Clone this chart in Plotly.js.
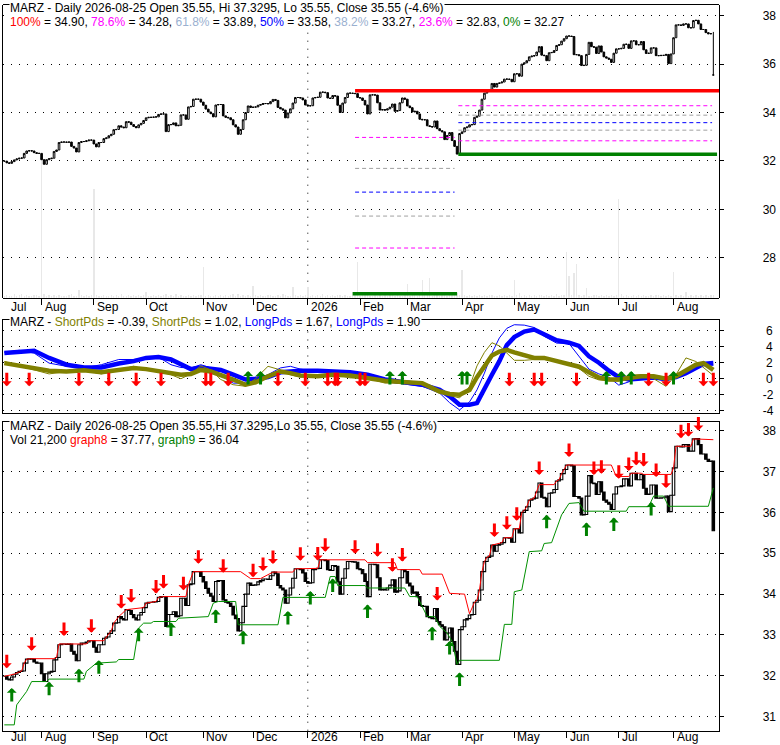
<!DOCTYPE html>
<html>
<head>
<meta charset="utf-8">
<script src="https://cdn.plot.ly/plotly-3.0.1.min.js"></script>
<style>
  body { margin: 0; background: #fff; }
  #chart { width: 780px; height: 745px; }
</style>
</head>
<body>
<div id="chart"></div>
<script>
// daily closes, one per trading day (Jul 2025 .. 2026-08-25)
const closes = [
  31.99, 31.92, 31.90, 31.97, 32.04, 32.08, 32.11, 32.12, 32.31, 32.41,
  32.42, 32.41, 32.34, 32.31, 32.31, 32.05, 31.86, 32.05, 32.09, 32.11,
  32.39, 32.45, 32.76, 32.78, 32.78, 32.77, 32.78, 32.60, 32.53, 32.37,
  32.76, 32.80, 32.80, 32.83, 32.86, 32.86, 32.70, 32.58, 32.76, 32.76,
  32.92, 32.95, 33.04, 33.10, 33.29, 33.30, 33.45, 33.40, 33.37, 33.62,
  33.60, 33.50, 33.42, 33.37, 33.49, 33.55, 33.67, 33.78, 33.80, 33.80,
  33.81, 33.82, 33.92, 33.94, 33.94, 33.21, 33.50, 33.50, 33.57, 33.45,
  33.47, 33.90, 33.90, 33.72, 34.23, 34.25, 34.55, 34.55, 34.55, 34.43,
  34.30, 34.14, 34.02, 33.95, 33.82, 34.31, 34.33, 34.33, 33.86, 33.80,
  33.78, 33.70, 33.49, 33.40, 33.10, 33.30, 33.70, 34.00, 34.27, 34.21,
  34.22, 34.23, 34.30, 34.33, 34.37, 34.37, 34.36, 34.45, 34.54, 34.50,
  34.21, 34.15, 34.10, 33.78, 33.98, 34.15, 34.39, 34.62, 34.62, 34.60,
  34.52, 34.31, 34.27, 34.28, 34.60, 34.62, 34.63, 34.84, 34.84, 34.82,
  34.60, 34.58, 34.70, 34.68, 34.30, 34.00, 34.39, 34.62, 34.80, 34.80,
  34.79, 34.78, 34.62, 34.60, 34.50, 34.31, 33.94, 34.73, 34.73, 34.72,
  34.40, 34.10, 34.12, 34.10, 34.15, 34.22, 34.35, 34.05, 34.08, 34.40,
  34.60, 34.55, 34.27, 34.20, 34.02, 34.05, 33.94, 33.72, 33.70, 33.70,
  33.45, 33.42, 33.40, 33.65, 33.33, 33.25, 33.20, 32.88, 33.05, 33.17,
  32.84, 32.60, 32.28, 33.13, 33.20, 33.37, 33.40, 33.49, 33.50, 33.80,
  33.85, 34.10, 34.55, 34.80, 34.90, 34.93, 35.20, 35.05, 35.20, 35.22,
  35.26, 35.38, 35.38, 35.37, 35.27, 35.60, 35.60, 35.50, 36.00, 36.05,
  36.14, 36.30, 36.33, 36.35, 36.50, 36.72, 36.37, 36.35, 36.14, 36.47,
  36.48, 36.56, 36.77, 36.80, 36.95, 37.05, 37.16, 37.16, 37.14, 36.39,
  36.39, 36.35, 35.94, 35.95, 36.40, 36.90, 36.72, 36.70, 36.44, 36.75,
  36.50, 36.30, 36.25, 36.20, 36.07, 36.45, 36.63, 36.63, 36.65, 36.82,
  36.82, 36.65, 36.96, 36.96, 36.80, 36.80, 36.93, 36.59, 36.44, 36.45,
  36.67, 36.67, 36.35, 36.35, 36.36, 36.36, 36.40, 36.02, 36.42, 37.09,
  37.62, 37.62, 37.60, 37.66, 37.66, 37.50, 37.50, 37.80, 37.81, 37.66,
  37.43, 37.43, 37.30, 37.25, 37.26, 35.55
];

// daily volume, thousands of shares
const volumes = [
  12, 18, 9, 14, 22, 11, 16, 25, 13, 19, 10, 15, 21, 17, 12, 976, 24, 14, 18, 11,
  16, 13, 20, 9, 15, 12, 18, 23, 14, 10, 55, 17, 13, 19, 11, 16, 744, 21, 12, 15,
  18, 10, 14, 20, 13, 17, 11, 22, 15, 12, 19, 14, 16, 10, 21, 13, 18, 41, 12, 15,
  20, 11, 17, 14, 19, 26, 13, 16, 12, 22, 15, 18, 10, 14, 20, 13, 17, 11, 16, 19,
  212, 14, 18, 12, 15, 21, 13, 17, 10, 19, 14, 16, 22, 12, 25, 15, 18, 11, 20, 13,
  82, 16, 12, 19, 14, 10, 17, 21, 13, 15, 18, 11, 24, 16, 14, 12, 75, 19, 13, 17,
  11, 20, 75, 14, 16, 12, 18, 15, 22, 13, 17, 10, 19, 14, 21, 16, 12, 18, 15, 11,
  17, 20, 246, 13, 16, 19, 24, 12, 15, 18, 14, 21, 11, 17, 13, 20, 16, 12, 19, 15,
  14, 18, 96, 13, 17, 22, 15, 20, 123, 16, 19, 134, 14, 18, 21, 15, 17, 24, 13, 19,
  22, 28, 35, 18, 189, 16, 14, 20, 12, 17, 15, 19, 13, 18, 11, 16, 21, 14, 12, 18,
  15, 20, 13, 17, 11, 123, 16, 35, 14, 19, 12, 18, 15, 21, 13, 17, 20, 14, 16, 12,
  19, 15, 22, 13, 18, 16, 314, 150, 20, 171, 232, 17, 14, 19, 68, 15, 12, 18, 16, 13,
  21, 15, 17, 12, 19, 14, 16, 674, 28, 13, 18, 15, 11, 20, 14, 17, 12, 19, 15, 13,
  18, 14, 16, 21, 12, 17, 15, 19, 13, 177, 16, 14, 20, 12, 41, 15, 18, 13, 17, 11,
  16, 14, 19, 15, 18, 21.2
];

// last bar as given in the header
const lastBar = { open: 35.55, high: 37.3295, low: 35.55, close: 35.55 };

// month starts (bar index) and their labels
const monthTicks = [15, 36, 57, 80, 100, 122, 143, 162, 184, 205, 226, 247, 269];
const monthNames = ['Aug', 'Sep', 'Oct', 'Nov', 'Dec', '2026', 'Feb', 'Mar', 'Apr', 'May', 'Jun', 'Jul', 'Aug'];
const firstMonth = { name: 'Jul', idx: 1.5 };
const yearIdx = 122;

// fibonacci levels
const fibPct = ['100%', '78.6%', '61.8%', '50%', '38.2%', '23.6%', '0%'];
const fibLevels = [34.90, 34.28, 33.89, 33.58, 33.27, 32.83, 32.27];
const fibLevelsPrev = [34.90, 32.97, 31.69, 30.71, 29.72, 28.40, 26.51];
const fibStartIdx = 141;
const fibLowIdx = 182;

// graph8 (upper) and graph9 (lower) channel lines
const redX = [0, 4, 7, 8, 9, 11, 20, 21, 22, 33, 34, 40, 41, 42, 43, 44, 46, 49, 56, 57,
  61, 62, 64, 73, 74, 76, 95, 99, 103, 108, 116, 117, 126, 127, 145, 146, 157, 158, 167, 168,
  176, 179, 185, 187, 189, 190, 191, 192, 193, 194, 195, 196, 200, 201, 204, 205, 207, 208, 209, 210,
  211, 213, 214, 215, 221, 222, 223, 224, 225, 226, 244, 246, 251, 252, 256, 257, 268, 269, 270, 276,
  277, 285];
const redY = [31.99, 32.04, 32.12, 32.31, 32.41, 32.42, 32.42, 32.45, 32.78, 32.78, 32.86, 32.86, 32.95, 33.04, 33.10, 33.29, 33.45, 33.62, 33.67, 33.78,
  33.82, 33.92, 33.94, 33.94, 34.23, 34.55, 34.55, 34.38, 34.38, 34.54, 34.54, 34.62, 34.63, 34.84, 34.84, 34.77, 34.77, 34.60, 34.60, 34.49,
  34.49, 34.02, 34.00, 33.52, 33.80, 33.85, 34.10, 34.55, 34.80, 34.90, 34.93, 35.20, 35.26, 35.38, 35.38, 35.60, 35.60, 36.00, 36.05, 36.14,
  36.30, 36.35, 36.50, 36.68, 36.68, 36.77, 36.80, 36.95, 37.05, 37.16, 37.16, 36.88, 36.88, 36.96, 36.96, 36.93, 36.93, 37.09, 37.62, 37.62,
  37.80, 37.78];
const greenX = [0, 4, 5, 9, 11, 17, 18, 32, 33, 37, 45, 46, 52, 54, 56, 59, 60, 69, 70, 82,
  84, 86, 93, 94, 110, 112, 129, 131, 133, 134, 145, 146, 161, 163, 166, 170, 173, 175, 178, 180,
  182, 183, 199, 201, 204, 205, 208, 211, 216, 217, 220, 222, 224, 227, 231, 233, 250, 251, 259, 261,
  265, 267, 283, 285];
const greenY = [30.80, 30.80, 31.29, 31.62, 31.86, 31.86, 31.92, 31.92, 32.11, 32.31, 32.34, 32.40, 32.40, 33.17, 33.29, 33.29, 33.33, 33.33, 33.41, 33.45,
  33.78, 33.82, 33.82, 33.25, 33.25, 33.92, 33.92, 34.43, 34.43, 34.21, 34.21, 34.15, 34.15, 33.94, 33.94, 33.45, 33.45, 33.21, 33.05, 32.84,
  32.28, 32.38, 32.38, 33.26, 33.26, 34.06, 34.10, 35.04, 35.06, 35.24, 35.26, 35.60, 35.94, 36.22, 36.24, 36.03, 36.03, 36.14, 36.14, 36.40,
  36.40, 36.15, 36.15, 36.60];

// oscillator panel
const oscX = [0, 6, 12, 18, 25, 32, 39, 46, 52, 57, 62, 67, 71, 75, 79, 83, 87, 92, 97, 101,
  106, 111, 115, 119, 126, 132, 139, 146, 153, 160, 168, 175, 179, 183, 187, 190, 193, 196, 199, 202,
  205, 209, 213, 217, 222, 227, 231, 235, 239, 243, 247, 251, 256, 261, 266, 270, 274, 278, 281, 285];
const longThick = [3.2, 3.4, 3.5, 2.6, 1.75, 1.4, 1.4, 1.9, 2.2, 2.6, 2.7, 2.4, 1.75, 1.2, 1.4, 1.2, 1.1, 0.5, -0.1, 0.0,
  0.2, 0.8, 0.9, 1.0, 1.0, 0.95, 0.8, 0.5, -0.1, -0.4, -0.75, -1.4, -2.2, -3.25, -3.25, -3.05, -1.4, 0.5, 2.2, 4.2,
  5.2, 5.9, 6.15, 5.6, 4.8, 4.5, 4.1, 2.8, 2.0, 1.0, 0.2, -0.1, 0.0, 0.15, 0.0, 0.2, 0.7, 1.3, 1.85, 1.95];
const longThin = [3.3, 3.55, 3.2, 1.95, 1.55, 1.35, 1.75, 2.4, 2.4, 2.6, 2.7, 1.75, 1.4, 1.35, 1.75, 1.35, 0.4, -0.55, -0.55, 0.0,
  0.5, 1.35, 1.55, 1.2, 0.9, 0.9, 0.6, 0.3, -0.35, -0.6, -0.95, -1.8, -3.0, -3.9, -2.9, -1.4, 0.7, 3.2, 5.1, 6.3,
  6.75, 6.7, 6.4, 5.3, 4.45, 4.4, 2.8, 1.2, 0.6, 0.2, -0.8, -0.4, 0.5, 0.1, -0.35, 0.3, 1.2, 1.6, 1.75, 1.67];
const shortThick = [1.95, 1.6, 1.35, 1.0, 0.9, 1.05, 0.8, 1.05, 1.35, 1.2, 1.0, 0.8, 0.5, 0.6, 1.1, 0.9, 0.5, -0.1, -0.75, -0.45,
  0.3, 0.9, 0.7, 0.4, 0.3, 0.5, 0.4, 0.1, -0.25, -0.4, -0.55, -1.6, -1.9, -2.0, -1.4, 0.2, 1.6, 2.9, 3.4, 3.6,
  3.3, 2.9, 2.6, 2.6, 2.2, 1.9, 1.5, 0.8, 0.15, -0.1, -0.1, 0.1, 0.3, 0.3, 0.0, 0.3, 1.0, 1.75, 1.95, 1.1];
const shortThin = [2.15, 1.6, 1.1, 0.6, 0.9, 1.05, 0.6, 1.1, 1.55, 1.1, 0.9, 0.5, 0.0, 0.6, 1.6, 1.1, -0.1, -0.75, -0.95, 0.0,
  1.55, 1.1, 0.5, 0.2, 0.4, 0.6, 0.1, 0.1, -0.55, -0.5, -0.75, -1.6, -2.1, -2.4, -1.0, 1.6, 3.3, 4.5, 4.1, 3.2,
  2.3, 2.3, 2.4, 2.4, 2.15, 1.8, 1.3, 0.3, -0.15, -0.25, -0.3, 0.45, 0.5, 0.0, -0.95, 0.5, 2.6, 2.15, 1.4, 0.4];

// signal bars
const oscDownIdx = [1, 10, 30, 42, 53, 63, 81, 83, 90, 110, 121, 130, 133, 134, 143, 145, 203, 213, 216, 230, 259, 266, 281, 285];
const oscUpIdx = [98, 103, 155, 160, 184, 186, 242, 248, 252, 269];
const sigDownIdx = [1, 11, 24, 35, 47, 51, 61, 64, 72, 78, 88, 100, 104, 108, 119, 126, 129, 141, 150, 156,
  160, 174, 197, 202, 206, 215, 227, 237, 240, 247, 251, 254, 257, 262, 266, 272, 275, 279];
const sigUpIdx = [3, 18, 30, 38, 54, 67, 85, 96, 114, 123, 132, 146, 172, 179, 183, 218, 234, 245, 260];

// ---------------------------------------------------------------
const RED = '#ff0000', GREEN = '#008000', BLUE = '#0000ff', MAG = '#ff00ff', GRAY = '#a0a0a0';
const OLIVE = '#808000';
const FONT = 'Liberation Sans, Arial, sans-serif';
const fibColors = [RED, MAG, GRAY, BLUE, GRAY, MAG, GREEN];
const fibTextColors = [RED, MAG, '#9ab0d0', BLUE, '#9ab0d0', MAG, GREEN];

const n = closes.length;
const idx = closes.map((_, i) => i);
const opens = closes.map((c, i) => (i === 0 ? c : closes[i - 1]));
const highs = opens.map((o, i) => Math.max(o, closes[i]));
const lows = opens.map((o, i) => Math.min(o, closes[i]));

// top panel candles: last one from header
const tOpen = opens.slice(), tHigh = highs.slice(), tLow = lows.slice(), tClose = closes.slice();
tOpen[n - 1] = lastBar.open; tHigh[n - 1] = lastBar.high;
tLow[n - 1] = lastBar.low; tClose[n - 1] = lastBar.close;

const xRange = [-0.4, 287.4];
const traces = [];

// volume sits on its own hidden axis (subplot x/y), price on x/y4 drawn above it
traces.push({
  type: 'bar', x: idx, y: volumes, xaxis: 'x', yaxis: 'y', width: 0.55,
  marker: { color: '#e8e8e8', line: { width: 0 } }, hoverinfo: 'skip'
});
traces.push({
  type: 'candlestick', x: idx, open: tOpen, high: tHigh, low: tLow, close: tClose,
  xaxis: 'x', yaxis: 'y4', whiskerwidth: 0,
  increasing: { line: { color: '#000', width: 1 }, fillcolor: '#fff' },
  decreasing: { line: { color: '#000', width: 1 }, fillcolor: '#000' },
  hoverinfo: 'skip'
});

// fib lines
function seg(x0, x1, y, color, width, dash, xa, ya) {
  return { type: 'scatter', mode: 'lines', x: [x0, x1], y: [y, y], xaxis: xa, yaxis: ya,
    line: { color: color, width: width, dash: dash }, hoverinfo: 'skip' };
}
for (let k = 1; k < 6; k++) {
  traces.push(seg(fibStartIdx, fibLowIdx - 1, fibLevelsPrev[k], fibColors[k], 1, '4px,3px', 'x', 'y4'));
  traces.push(seg(fibLowIdx + 0.5, n - 1.5, fibLevels[k], fibColors[k], 1, '4px,3px', 'x', 'y4'));
}
traces.push(seg(fibStartIdx - 1, fibLowIdx, fibLevelsPrev[6], GREEN, 3.5, 'solid', 'x', 'y4'));
traces.push(seg(fibLowIdx + 0.5, n + 0.5, fibLevels[6], GREEN, 3.5, 'solid', 'x', 'y4'));
traces.push(seg(fibStartIdx, xRange[1], fibLevels[0], RED, 3.5, 'solid', 'x', 'y4'));

// oscillator
traces.push({ type: 'scatter', mode: 'lines', x: oscX, y: longThick, xaxis: 'x2', yaxis: 'y2',
  line: { color: BLUE, width: 4.5 }, hoverinfo: 'skip' });
traces.push({ type: 'scatter', mode: 'lines', x: oscX, y: longThin, xaxis: 'x2', yaxis: 'y2',
  line: { color: BLUE, width: 1 }, hoverinfo: 'skip' });
traces.push({ type: 'scatter', mode: 'lines', x: oscX, y: shortThick, xaxis: 'x2', yaxis: 'y2',
  line: { color: OLIVE, width: 4.5 }, hoverinfo: 'skip' });
traces.push({ type: 'scatter', mode: 'lines', x: oscX, y: shortThin, xaxis: 'x2', yaxis: 'y2',
  line: { color: OLIVE, width: 1 }, hoverinfo: 'skip' });

// bottom step panel
traces.push({
  type: 'bar', x: idx, base: opens, y: closes.map((c, i) => c - opens[i]),
  xaxis: 'x3', yaxis: 'y3', width: 1,
  marker: { color: closes.map((c, i) => (c >= opens[i] ? '#fff' : '#000')), line: { color: '#000', width: 1.1 } },
  hoverinfo: 'skip'
});
traces.push({ type: 'scatter', mode: 'lines', x: redX, y: redY, xaxis: 'x3', yaxis: 'y3',
  line: { color: RED, width: 1 }, hoverinfo: 'skip' });
traces.push({ type: 'scatter', mode: 'lines', x: greenX, y: greenY, xaxis: 'x3', yaxis: 'y3',
  line: { color: '#009000', width: 1 }, hoverinfo: 'skip' });

// ---------------------------------------------------------------
const ann = [];
function head(text, yPx) {
  ann.push({ xref: 'paper', yref: 'paper', x: 9 / 780, y: 1 - yPx / 745, xanchor: 'left', yanchor: 'middle',
    text: text, showarrow: false, bgcolor: '#fff', borderpad: 0, font: { family: FONT, size: 12, color: '#000' } });
}
const sp = (c, t) => '<span style="color:' + c + '">' + t + '</span>';
head('MARZ - Daily 2026-08-25 Open 35.55, Hi 37.3295, Lo 35.55, Close 35.55 (-4.6%)', 8);
head(fibPct.map((p, k) => sp(fibTextColors[k], p) + ' = ' + fibLevels[k].toFixed(2)).join(', '), 21.5);
head('MARZ - ' + sp(OLIVE, 'ShortPds') + ' = -0.39, ' + sp(OLIVE, 'ShortPds') + ' = 1.02, ' +
  sp(BLUE, 'LongPds') + ' = 1.67, ' + sp(BLUE, 'LongPds') + ' = 1.90', 321.5);
head('MARZ - Daily 2026-08-25 Open 35.55,Hi 37.3295,Lo 35.55, Close 35.55 (-4.6%)', 426);
head('Vol 21,200 ' + sp(RED, 'graph8') + ' = 37.77, ' + sp(GREEN, 'graph9') + ' = 36.04', 440);

function monthLabels(xref, yPx) {
  const pos = [firstMonth.idx].concat(monthTicks);
  const names = [firstMonth.name].concat(monthNames);
  pos.forEach((p, k) => ann.push({ xref: xref, yref: 'paper', x: p, y: 1 - yPx / 745, xanchor: 'left',
    yanchor: 'middle', xshift: 1, text: names[k], showarrow: false, font: { family: FONT, size: 12, color: '#000' } }));
}
monthLabels('x', 307);
monthLabels('x3', 737);

function arrow(x, y, xref, yref, color, down, shift) {
  ann.push({ x: x, y: y, xref: xref, yref: yref, text: '', showarrow: true, arrowcolor: color,
    arrowwidth: 3, arrowhead: 1, arrowsize: 0.55, ax: 0, ay: down ? -15 : 15, yshift: shift, standoff: 0 });
}
oscDownIdx.forEach(i => arrow(i, -0.95, 'x2', 'y2', RED, true, 0));
oscUpIdx.forEach(i => arrow(i, 0.95, 'x2', 'y2', GREEN, false, 0));
sigDownIdx.forEach(i => arrow(i, highs[i], 'x3', 'y3', RED, true, 8));
sigUpIdx.forEach(i => arrow(i, lows[i], 'x3', 'y3', GREEN, false, -8));

// dotted year separator in every panel
const shapes = [['x', 'y4'], ['x2', 'y2'], ['x3', 'y3']].map(([xr, yr]) => ({
  type: 'line', xref: xr, yref: yr + ' domain', x0: yearIdx, x1: yearIdx, y0: 0, y1: 1,
  layer: 'below', line: { color: '#000', width: 1, dash: '1px,7px' }
}));

const xDom = [3.3 / 780, 719.3 / 780];
const dom = (top, bot) => [1 - bot / 745, 1 - top / 745];
const topDom = dom(5, 297.7);
const xBase = {
  domain: xDom, range: xRange, showgrid: false, zeroline: false, showline: true, mirror: true,
  linecolor: '#000', linewidth: 1, fixedrange: true, rangeslider: { visible: false }
};
const yBase = {
  side: 'right', showline: true, mirror: true, linecolor: '#000', linewidth: 1, zeroline: false,
  ticks: 'outside', ticklen: 4, tickcolor: '#000', ticklabelstandoff: 36,
  showgrid: true, gridcolor: '#000', gridwidth: 1, griddash: '1px,7px',
  tickfont: { family: FONT, size: 12, color: '#000' }, fixedrange: true
};

const layout = {
  width: 780, height: 745, margin: { l: 0, r: 0, t: 0, b: 0, pad: 0 },
  paper_bgcolor: '#fff', plot_bgcolor: 'rgba(0,0,0,0)', showlegend: false,
  font: { family: FONT, size: 12, color: '#000' },
  bargap: 0, boxgap: 0.35, boxgroupgap: 0, hovermode: false,
  xaxis: Object.assign({}, xBase, { anchor: 'y', tickvals: monthTicks, ticks: 'outside', ticklen: 6,
    tickcolor: '#000', showticklabels: false }),
  yaxis: { domain: topDom, anchor: 'x', range: [0, 2000], visible: false, fixedrange: true },
  yaxis4: Object.assign({}, yBase, { domain: topDom, anchor: 'x', range: [26.347, 38.442],
    tickvals: [28, 30, 32, 34, 36, 38] }),
  xaxis2: Object.assign({}, xBase, { anchor: 'y2', ticks: '', showticklabels: false }),
  yaxis2: Object.assign({}, yBase, { domain: dom(320, 412.5), anchor: 'x2', range: [-4.225, 7.34],
    tickvals: [-4, -2, 0, 2, 4, 6], ticktext: ['-4', '-2', '\u20080', '\u20082', '\u20084', '\u20086'] }),
  xaxis3: Object.assign({}, xBase, { anchor: 'y3', tickvals: monthTicks, ticks: 'outside', ticklen: 6,
    tickcolor: '#000', showticklabels: false }),
  yaxis3: Object.assign({}, yBase, { domain: dom(422.3, 730.7), anchor: 'x3', range: [30.657, 38.206],
    tickvals: [31, 32, 33, 34, 35, 36, 37, 38] }),
  annotations: ann,
  shapes: shapes
};

Plotly.newPlot('chart', traces, layout, { staticPlot: true, displayModeBar: false });
</script>
</body>
</html>
